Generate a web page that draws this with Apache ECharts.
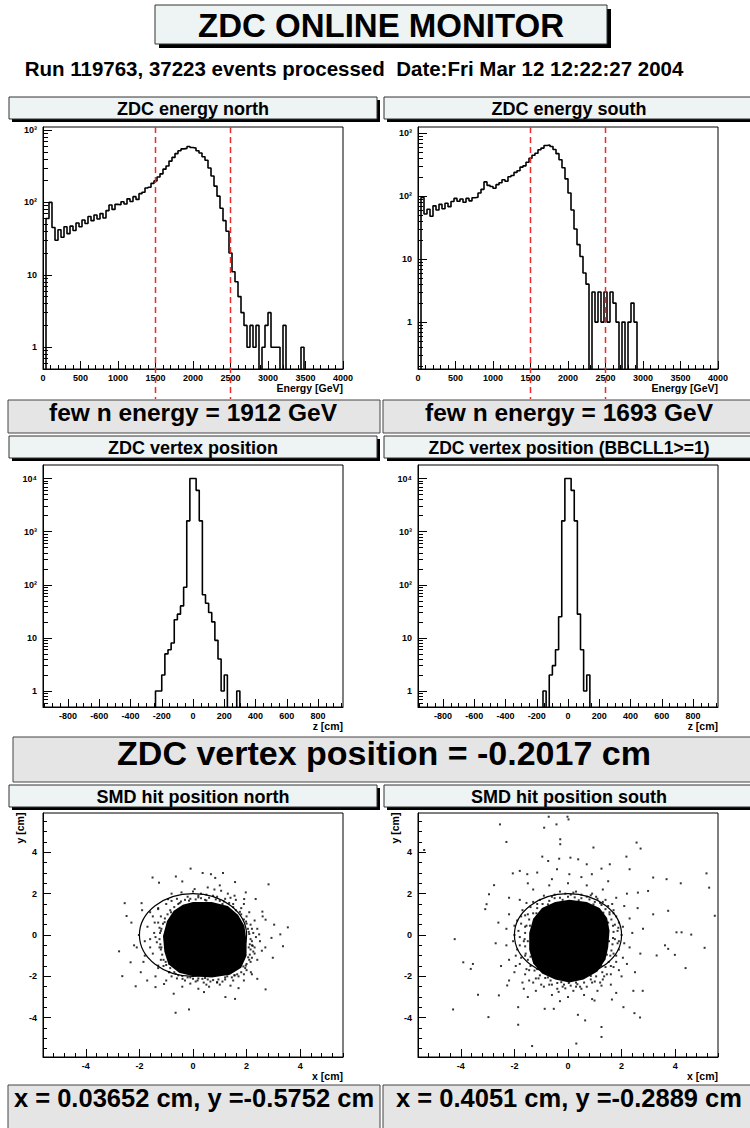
<!DOCTYPE html>
<html><head><meta charset="utf-8">
<script src="https://cdn.jsdelivr.net/npm/echarts@6.0.0/dist/echarts.min.js"></script>
<style>html,body{margin:0;padding:0;background:#fff}#c{width:750px;height:1128px}</style>
</head><body><div id="c"></div>
<script>
const FONT = '"Liberation Sans", Arial, Helvetica, sans-serif';

// ---------------- data ----------------
const energyBinWidth = 40;      // GeV per bin, bins start at 0
const energyNorth = [0,60,100,45,30,42,33,46,37,47, 41,52,46,57,51,64,56,67,59,70,
  61,77,92,80,94,93,102,95,112,103, 120,110,132,138,158,162,183,198,224,248,
  288,318,372,418,472,518,548,558,592,572, 562,518,482,428,382,298,232,168,122,83,
  56,40,20,11,8,5,3,2,1,2, 1,2,0,1,2,3,1,1,1,0,
  2,0,0,0,0,0,1,0,0,0, 0,0,0,0,0,0,0,0,0,0];
const energySouth = [0,95,52,62,48,70,60,74,63,77, 68,82,92,83,90,80,92,84,94,96,
  112,128,168,148,142,133,152,163,182,172, 203,212,238,252,288,302,344,398,444,478,
  545,578,634,648,612,548,472,378,282,188, 112,60,30,17,11,6,4,0,3,1,
  3,1,3,1,3,2,1,0,1,0, 1,2,1,0,0,0,0,0,0,0,
  0,0,0,0,0,0,0,0,0,0, 0,0,0,0,0,0,0,0,0,0];
const energyCuts = [1500, 2500];
const fewNEnergyNorth = 1912, fewNEnergySouth = 1693;

const vertexBinWidth = 20;      // cm
const vertexNorthStart = -240;
const vertexNorth = [1,1,2,5,6,8,22,28,40,90,1600,10000,10000,6000,1600,65,45,30,20,9,4,1,2,0,0,0,1];
const vertexSouthStart = -160;
const vertexSouth = [1,0,2,3,6,25,1600,10000,10000,6000,1600,28,6,1,2];
const vertexMean = -0.2017;

const smdRing = [[0, 0, 2]];    // cx, cy, r (cm)
const smdNorthCore = [[0.0,1.6],[0.7,1.6],[1.3,1.4],[1.68,0.98],[1.92,0.45],[2.0,-0.3],[2.0,-1.0],[1.8,-1.58],
  [1.38,-1.92],[0.7,-2.05],[0.0,-2.0],[-0.52,-1.82],[-0.92,-1.42],[-1.07,-0.8],[-1.12,-0.05],[-0.97,0.68],[-0.72,1.17],[-0.38,1.46]];
const smdNorthHits = [[-0.09,3.21],[-1.51,2.78],[-0.64,2.83],[-0.4,2.59],[-1.27,2.53],[0.36,3.0],[0.67,2.94],[1.12,3.0],
  [0.83,2.76],[1.57,2.56],[2.82,2.45],[-2.55,1.54],[-1.92,1.54],[-2.48,0.92],[-2.76,-0.79],[-2.64,-1.99],[-2.14,-2.48],
  [-1.71,-2.2],[-1.4,-2.52],[-1.08,-2.37],[-0.72,-2.84],[-0.65,-3.76],[-0.15,-3.6],[0.41,-2.76],[1.21,-3.0],[1.57,-3.09],
  [1.7,-2.57],[2.71,-2.63],[2.4,-2.12],[2.98,-1.1],[3.36,-0.54],[3.54,0.37],[3.03,0.5],[2.71,0.74],[2.59,1.13],[2.34,1.74],
  [1.97,2.06],[2.93,-0.14],[2.47,0.03],[2.23,-0.52],[2.57,-0.76],[3.26,0.03],[1.97,-1.48],[2.16,-1.8],[1.55,-1.95],
  [0.9,-2.28],[0.17,-2.2],[-0.39,-2.12],[-0.88,-1.8],[-1.3,-1.48],[-1.8,-1.0],[-1.6,-0.2],[-1.43,0.6],[-1.3,1.25],
  [-0.93,1.73],[-0.43,2.06],[0.06,2.22],[0.55,2.3],[1.05,2.14],[1.55,1.9],[1.91,1.74],[-2.2,-0.5],[-2.02,0.0],
  [-2.33,-1.32],[-1.95,-1.8],
  [-1.5,0.9],[-1.3,1.3],[-1.7,0.4],[-1.8,-0.3],[-1.5,-0.9],[-1.35,-0.35],[-1.25,0.35],[-1.45,0.1],[-1.6,-0.6],[-1.2,-1.2],
  [-1.3,-1.6],[-0.9,-1.8],[-0.6,-2.1],[-1.0,1.5],[-0.6,1.75],[-0.2,1.85],[0.2,1.9],[0.5,1.95],[0.9,1.85],[1.2,1.75],
  [1.5,1.5],[1.8,1.3],[2.0,0.9],[2.15,0.5],[2.25,0.1],[2.2,-0.5],[2.3,-0.9],[2.15,-1.3],[2.0,-1.7],[1.7,-2.0],[1.2,-2.15],
  [0.9,-2.3],[0.4,-2.3],[0.1,-2.25],[-0.3,-2.2],[-1.6,1.1],[-0.8,1.65],[1.6,1.7],[2.4,0.3],[2.5,-0.3],[2.4,-1.2],
  [1.9,-2.2],[1.4,-2.45],[0.6,-2.5],[-0.4,-2.5],[-1.0,-2.2],[-1.85,-1.3],[-2.1,-0.6],[-2.3,0.6],[-1.9,1.2],[0.0,2.1],
  [0.8,2.2],[1.3,2.0],[2.6,0.9],[2.7,-0.6],[2.2,-1.9],[0.2,-2.6],[-1.4,-2.0],[-0.8,2.0],[1.0,2.4],[-1.2,0.9],[-1.4,-0.1],
  [-1.3,0.6],[-1.25,-0.6],[-1.1,-1.5],[0.3,2.0],[1.4,1.8],[1.9,1.5],[2.1,1.1],[2.3,0.7],[2.35,-0.1],[2.3,-0.6],[2.2,-1.1],
  [1.9,-1.9],[1.5,-2.2],[1.0,-2.4],[0.5,-2.4],[-0.1,-2.35],[-0.8,-2.0],
  [-0.3,1.7],[-0.1,1.75],[0.1,1.72],[0.3,1.78],[0.45,1.7],[0.6,1.8],[0.85,1.72],[1.0,1.65],[1.15,1.62],[-0.45,1.62],
  [0.2,1.82],[0.75,1.9],[1.35,1.55],[1.5,1.35],[1.6,1.2],[1.8,1.0],[1.9,0.75],[2.0,0.55],[2.05,0.3],[2.1,0.05],
  [2.15,-0.2],[2.12,-0.45],[2.15,-0.7],[2.12,-0.95],[2.1,-1.2],[2.0,-1.4],[1.95,-1.6],[1.8,-1.8],[1.65,-1.9],[2.2,-0.3],
  [2.25,-0.8],[2.2,0.3],[1.45,-2.05],[1.2,-2.05],[0.95,-2.15],[0.75,-2.18],[0.55,-2.15],[0.35,-2.12],[0.2,-2.1],
  [0.0,-2.12],[-0.2,-2.05],[-0.4,-1.98],[-0.55,-1.95],[-0.7,-1.8],[0.65,-2.25],[1.1,-2.25],[-0.85,-1.6],[-1.0,-1.45],
  [-1.1,-1.2],[-1.15,-0.95],[-1.2,-0.7],[-1.22,-0.45],[-1.25,-0.2],[-1.23,0.1],[-1.18,0.3],[-1.12,0.55],[-1.05,0.8],
  [-0.95,1.0],[-0.85,1.2],[-0.7,1.35],[-0.55,1.5],[1.75,1.12],[1.98,0.65],[2.08,0.15],[2.08,-0.6],[2.06,-1.08],
  [1.88,-1.52],[1.55,-1.95],[1.28,-2.0],[0.45,-2.08],[-0.1,-2.05],[-0.65,-1.88],[-1.02,-1.3],[-1.18,-0.6],[-1.2,0.2],
  [-1.06,0.62],[-0.82,1.1],[-0.5,1.55],[-0.15,1.66],[0.5,1.67],[1.1,1.5]];
const smdNorthMean = [0.03652, -0.5752];

const smdSouthCore = [[0.05,1.7],[0.7,1.6],[1.18,1.3],[1.46,0.82],[1.55,0.2],[1.5,-0.6],[1.4,-1.18],[1.1,-1.76],
  [0.58,-2.15],[0.05,-2.3],[-0.48,-2.15],[-0.97,-1.86],[-1.3,-1.38],[-1.45,-0.7],[-1.45,0.1],[-1.3,0.78],[-0.97,1.3],[-0.48,1.6]];
const smdSouthHits = [[-0.72,5.72],[-0.02,5.72],[0.02,5.59],[-0.43,5.35],[-0.89,5.19],[-2.54,5.35],[-2.3,4.5],[-0.29,4.63],
  [-0.29,4.39],[0.95,4.23],[2.56,4.47],[2.71,4.18],[-5.37,4.11],[-0.96,3.79],[-0.74,3.58],[-0.33,3.69],[0.09,3.74],
  [0.38,3.66],[2.18,3.79],[0.7,3.42],[1.25,3.21],[1.56,3.42],[-2.06,2.98],[-1.8,3.1],[-1.52,2.94],[-1.15,3.02],[-0.41,3.18],
  [0.05,2.94],[0.89,2.94],[2.3,3.18],[3.18,2.78],[3.68,2.7],[4.21,2.5],[5.17,2.98],[5.27,2.29],[5.48,0.93],[-2.76,2.41],
  [-3.04,1.49],[-3.09,1.25],[-2.95,1.97],[2.99,2.13],[2.61,2.05],[3.18,1.0],[3.74,1.17],[4.05,0.13],[4.24,0.13],[4.6,0.02],
  [3.62,-0.5],[3.74,-0.67],[3.31,-0.99],[5.1,-0.62],[3.99,-0.96],[4.39,-1.6],[-4.23,-0.2],[-3.91,-1.32],[-3.55,-1.4],
  [-3.63,-1.64],[-3.36,-2.89],[-4.29,-3.6],[-2.97,-3.97],[-1.86,-3.49],[-1.86,-4.34],[-1.34,-5.37],[0.31,-5.25],
  [1.25,-4.45],[1.25,-4.93],[0.64,-4.13],[0.37,-3.86],[2.48,-3.78],[2.69,-3.99],[2.07,-3.49],[2.44,-2.7],[2.79,-2.7],
  [-2.58,-2.92],[-2.27,-2.44],[-1.65,-2.6],[-0.87,-3.57],[-0.53,-3.57],[0.99,-3.17],[1.64,-3.12],[0.03,-2.32],
  [-1.7,1.2],[-1.9,0.7],[-2.0,0.0],[-1.9,-0.7],[-1.8,-1.4],[-1.6,-1.9],[-1.3,-2.3],[-0.9,-2.5],[-0.4,-2.6],[0.2,-2.7],
  [0.7,-2.5],[1.2,-2.3],[1.6,-1.9],[1.8,-1.3],[1.9,-0.7],[2.0,0.0],[1.9,0.6],[1.7,1.2],[1.4,1.7],[0.9,2.0],[0.3,2.1],
  [-0.3,2.1],[-0.9,1.9],[-1.3,1.6],[-1.6,0.4],[-1.65,-0.3],[-1.6,-1.0],[-1.45,-1.7],[-1.1,-2.1],[-0.6,-2.4],[0.3,-2.5],
  [0.9,-2.3],[1.35,-2.0],[1.6,-1.5],[1.7,-0.9],[1.75,-0.2],[1.75,0.5],[1.55,1.1],[1.2,1.55],[0.7,1.85],[0.1,1.95],
  [-0.6,1.85],[-1.15,1.5],[-1.5,1.0],[-2.2,1.0],[-2.3,0.3],[-2.3,-0.5],[-2.2,-1.2],[-2.0,-1.8],[-1.7,-2.3],[-1.2,-2.7],
  [-0.6,-2.9],[0.0,-3.0],[0.6,-2.9],[1.1,-2.7],[1.6,-2.4],[2.0,-2.0],[2.2,-1.4],[2.3,-0.6],[2.4,0.1],[2.3,0.8],[2.1,1.4],
  [1.8,1.8],[1.3,2.2],[0.7,2.4],[0.0,2.5],[-0.7,2.4],[-1.3,2.2],[-1.8,1.7],[-2.6,0.6],[-2.7,-0.4],[-2.5,-1.5],[-2.2,-2.2],
  [-1.5,-3.0],[-0.3,-3.2],[0.9,-3.1],[1.8,-2.8],[2.5,-1.8],[2.7,-0.9],[2.8,0.3],[2.6,1.3],[2.2,2.0],[1.5,2.6],[0.5,2.8],
  [-0.6,2.7],[-1.5,2.5],[-2.2,1.8],[-1.85,0.2],[-1.8,-0.1],[-1.75,0.9],[-1.95,-1.0],[1.85,0.2],[1.85,-0.4],[1.65,1.5],
  [1.05,1.85],[-0.2,-2.5],[0.5,-2.6],[-1.0,-2.4],[1.3,-2.15],
  [-0.3,1.8],[0.0,1.85],[0.25,1.82],[0.5,1.78],[0.8,1.72],[1.0,1.6],[1.25,1.45],[1.4,1.25],[1.55,1.0],[1.62,0.75],
  [1.68,0.45],[1.7,0.15],[1.68,-0.15],[1.66,-0.45],[1.62,-0.75],[1.58,-1.0],[1.52,-1.3],[1.4,-1.55],[1.28,-1.8],
  [1.05,-2.0],[0.85,-2.15],[0.6,-2.3],[0.35,-2.38],[0.1,-2.45],[-0.15,-2.4],[-0.4,-2.32],[-0.65,-2.2],[-0.85,-2.08],
  [-1.05,-1.95],[-1.25,-1.72],[-1.4,-1.5],[-1.5,-1.2],[-1.58,-0.9],[-1.6,-0.55],[-1.62,-0.2],[-1.6,0.1],[-1.55,0.45],
  [-1.45,0.75],[-1.3,1.05],[-1.15,1.3],[-0.95,1.5],[-0.7,1.65],[-0.5,1.78],[-0.1,2.0],[0.5,1.95],[1.1,1.75],[1.5,1.4],
  [1.8,0.9],[1.88,0.35],[1.9,-0.3],[1.8,-1.0],[1.7,-1.55],[1.45,-1.9],[1.0,-2.25],[0.45,-2.5],[-0.1,-2.58],[-0.7,-2.4],
  [-1.2,-2.1],[-1.55,-1.65],[-1.75,-1.1],[-1.8,-0.5],[-1.75,0.55],[-1.6,0.95],[-1.4,1.35],[-1.05,1.7],[-0.5,1.95],
  [0.2,2.05],[0.85,1.92],[1.3,1.6],[1.7,1.05],[2.05,0.4],[2.1,-0.4],[2.05,-1.1],[1.9,-1.7],[1.25,-2.45],[-0.35,-2.75],
  [-1.45,-2.2],[-1.95,-1.5],[-2.05,-0.3],[-2.0,0.45],[-1.55,1.55],[1.5,0.6],[1.53,-0.3],[1.45,-0.95],[1.25,-1.5],
  [0.85,-1.98],[0.3,-2.3],[-0.25,-2.28],[-0.75,-2.05],[-1.15,-1.65],[-1.4,-1.05],[-1.5,-0.3],[-1.42,0.45],[-1.18,1.05],
  [-0.75,1.48],[-0.2,1.7],[0.4,1.68],[0.95,1.48],[1.32,1.08]];
const smdSouthMean = [0.4051, -0.2889];

// ticks
const energyMajorTicks = [0,500,1000,1500,2000,2500,3000,3500,4000];
const energyMinorTicks = [100,200,300,400,600,700,800,900,1100,1200,1300,1400,1600,1700,1800,1900,2100,2200,2300,2400,
  2600,2700,2800,2900,3100,3200,3300,3400,3600,3700,3800,3900];
const vertexMajorTicks = [-800,-600,-400,-200,0,200,400,600,800];
const vertexMinorTicks = [-950,-900,-850,-750,-700,-650,-550,-500,-450,-350,-300,-250,-150,-100,-50,50,100,150,
  250,300,350,450,500,550,650,700,750,850,900,950];
const smdMajorTicks = [-4,-2,0,2,4];
const smdXMinorTicks = [-5.6,-5.2,-4.8,-4.4,-3.6,-3.2,-2.8,-2.4,-1.6,-1.2,-0.8,-0.4,0.4,0.8,1.2,1.6,2.4,2.8,3.2,3.6,4.4,4.8,5.2,5.6];
const smdYMinorTicks = [-5.5,-5,-4.5,-3.5,-3,-2.5,-1.5,-1,-0.5,0.5,1,1.5,2.5,3,3.5,4.5,5,5.5];
const logMajorTicks = [1,10,100,1000,10000];
const logMajorLabels = {1:'1', 10:'10', 100:'10²', 1000:'10³', 10000:'10⁴'};
const logMinorTicks = [0.2,0.3,0.4,0.5,0.6,0.7,0.8,0.9,2,3,4,5,6,7,8,9,20,30,40,50,60,70,80,90,
  200,300,400,500,600,700,800,900,2000,3000,4000,5000,6000,7000,8000,9000];

// ---------------- helpers ----------------
const EMPTY = 1e-3; // empty bins drawn below the log-axis floor (clipped)
function histPoints(values, start, width, axisMin, axisMax) {
  const pts = [[axisMin, EMPTY]];
  values.forEach((v, i) => pts.push([start + i * width, v > 0 ? v : EMPTY]));
  pts.push([start + values.length * width, EMPTY]);
  pts.push([axisMax, EMPTY]);
  return pts;
}
const tickLabel = {color:'#000', fontFamily:FONT, fontWeight:'bold', fontSize:9};
function xPair(gi, min, max, major, minor, name) {
  return [
    {type:'value', gridIndex:gi, min, max, position:'bottom',
     axisLine:{show:true, onZero:false, lineStyle:{color:'#000', width:1}},
     axisTick:{show:true, inside:true, length:8, customValues:major, lineStyle:{color:'#000'}},
     axisLabel:Object.assign({customValues:major, margin:4, formatter:v => String(v)}, tickLabel),
     splitLine:{show:false},
     name, nameLocation:'end', nameGap:0, nameMoveOverlap:false,
     nameTextStyle:{color:'#000', fontFamily:FONT, fontWeight:'bold', fontSize:10.5, align:'right', verticalAlign:'top', padding:[13,0,0,0]}},
    {type:'value', gridIndex:gi, min, max, position:'bottom',
     axisLine:{show:false, onZero:false},
     axisTick:{show:true, inside:true, length:4, customValues:minor, lineStyle:{color:'#000'}},
     axisLabel:{show:false}, splitLine:{show:false}}
  ];
}
function yPairLog(gi, min, max) {
  return [
    {type:'log', logBase:10, gridIndex:gi, min, max, position:'left',
     axisLine:{show:true, onZero:false, lineStyle:{color:'#000', width:1}},
     axisTick:{show:true, inside:true, length:9, customValues:logMajorTicks, lineStyle:{color:'#000'}},
     axisLabel:Object.assign({customValues:logMajorTicks, margin:6, formatter:v => logMajorLabels[Math.round(v)] || ''}, tickLabel),
     splitLine:{show:false}, minorTick:{show:false}},
    {type:'log', logBase:10, gridIndex:gi, min, max, position:'left',
     axisLine:{show:false, onZero:false},
     axisTick:{show:true, inside:true, length:5, customValues:logMinorTicks, lineStyle:{color:'#000'}},
     axisLabel:{show:false}, splitLine:{show:false}}
  ];
}
function yPairLin(gi, min, max, major, minor) {
  return [
    {type:'value', gridIndex:gi, min, max, position:'left',
     axisLine:{show:true, onZero:false, lineStyle:{color:'#000', width:1}},
     axisTick:{show:true, inside:true, length:8, customValues:major, lineStyle:{color:'#000'}},
     axisLabel:Object.assign({customValues:major, margin:6, formatter:v => String(v)}, tickLabel),
     splitLine:{show:false}},
    {type:'value', gridIndex:gi, min, max, position:'left',
     axisLine:{show:false, onZero:false},
     axisTick:{show:true, inside:true, length:4, customValues:minor, lineStyle:{color:'#000'}},
     axisLabel:{show:false}, splitLine:{show:false}}
  ];
}
function histSeries(gi, values, start, width, min, max) {
  return {type:'line', xAxisIndex:2*gi, yAxisIndex:2*gi, step:'end', showSymbol:false, symbol:'none',
    data:histPoints(values, start, width, min, max), lineStyle:{color:'#000', width:1.6}, clip:true,
    silent:true, animation:false, z:3};
}
function cutSeries(gi) {
  return {type:'custom', coordinateSystem:'cartesian2d', xAxisIndex:2*gi, yAxisIndex:2*gi, clip:false, silent:true,
    data:energyCuts.map(v => [v, 1]), encode:{x:0, y:1}, z:4,
    renderItem:(params, api) => {
      const x = api.coord([api.value(0), 1])[0];
      const cs = params.coordSys;
      return {type:'line', shape:{x1:x, y1:cs.y, x2:x, y2:cs.y + cs.height + 30},
        style:{stroke:'#f02828', lineWidth:1.5, lineDash:[6,4], fill:null}};
    }};
}
function coreSeries(gi, core) {
  return {type:'custom', coordinateSystem:'cartesian2d', xAxisIndex:2*gi, yAxisIndex:2*gi, silent:true,
    data:[core[0]], encode:{x:0, y:1}, z:3,
    renderItem:(params, api) => ({type:'polygon', shape:{points:core.map(p => api.coord(p))}, style:{fill:'#000'}})};
}
function ringSeries(gi) {
  return {type:'custom', coordinateSystem:'cartesian2d', xAxisIndex:2*gi, yAxisIndex:2*gi, silent:true,
    data:smdRing, encode:{x:0, y:1}, z:4,
    renderItem:(params, api) => {
      const c = api.coord([api.value(0), api.value(1)]);
      const s = api.size([api.value(2), api.value(2)]);
      return {type:'ellipse', shape:{cx:c[0], cy:c[1], rx:s[0], ry:s[1]}, style:{fill:null, stroke:'#000', lineWidth:1.2}};
    }};
}
function hitSeries(gi, hits) {
  return {type:'scatter', xAxisIndex:2*gi, yAxisIndex:2*gi, data:hits, symbol:'rect', symbolSize:2,
    itemStyle:{color:'#000'}, silent:true, animation:false, z:3};
}

// ---------------- decorations ----------------
function titleBox(x, y, w, h, text, size, off) {
  off = off || 3;
  return [
    {type:'rect', shape:{x:x+off, y:y+off, width:w, height:h}, style:{fill:'#000'}},
    {type:'rect', shape:{x, y, width:w, height:h}, style:{fill:'#eef3f3', stroke:'#333', lineWidth:1}},
    {type:'text', x:x + w/2, y:y + h/2 + 1, style:{text, font:`bold ${size}px ${FONT}`, fill:'#000', align:'center', verticalAlign:'middle'}}
  ];
}
function grayBox(x, y, w, h, text, size, tx, ty) {
  return [
    {type:'rect', shape:{x, y, width:w, height:h}, style:{fill:'#e5e5e5', stroke:'#444', lineWidth:1}},
    {type:'text', x:tx, y:ty, style:{text, font:`bold ${size}px ${FONT}`, fill:'#000', align:'center', verticalAlign:'middle'}}
  ];
}
const graphics = [].concat(
  titleBox(155, 5, 452, 39, 'ZDC ONLINE MONITOR', 33, 4),
  [{type:'text', x:354, y:68, style:{text:'Run 119763, 37223 events processed  Date:Fri Mar 12 12:22:27 2004',
     font:`bold 20.5px ${FONT}`, fill:'#000', align:'center', verticalAlign:'middle'}}],
  titleBox(9, 97, 368, 22, 'ZDC energy north', 18),
  titleBox(384, 97, 370, 22, 'ZDC energy south', 18),
  grayBox(8, 400, 372, 33, `few n energy = ${fewNEnergyNorth} GeV`, 24.5, 193, 412),
  grayBox(383, 400, 372, 33, `few n energy = ${fewNEnergySouth} GeV`, 24.5, 569, 412),
  titleBox(9, 436, 368, 22, 'ZDC vertex position', 18),
  titleBox(384, 436, 370, 22, 'ZDC vertex position (BBCLL1>=1)', 17.5),
  grayBox(13, 737, 745, 45, `ZDC vertex position = ${vertexMean} cm`, 34, 384, 753),
  titleBox(9, 785, 368, 22, 'SMD hit position north', 18),
  titleBox(384, 785, 370, 22, 'SMD hit position south', 18),
  grayBox(8, 1085, 372, 50, `x = ${smdNorthMean[0]} cm, y =${smdNorthMean[1]} cm`, 25.5, 194, 1098),
  grayBox(383, 1085, 372, 50, `x = ${smdSouthMean[0]} cm, y =${smdSouthMean[1]} cm`, 25.5, 569, 1098),
  [{type:'text', x:20, y:828, rotation:Math.PI/2, style:{text:'y [cm]', font:`bold 10.5px ${FONT}`, fill:'#000', align:'center', verticalAlign:'middle'}},
   {type:'text', x:395, y:828, rotation:Math.PI/2, style:{text:'y [cm]', font:`bold 10.5px ${FONT}`, fill:'#000', align:'center', verticalAlign:'middle'}}]
);

// ---------------- chart ----------------
const gridBase = {show:true, borderColor:'#000', borderWidth:1, backgroundColor:'#fff', containLabel:false};
const grid = [
  {left:43, top:127, width:300, height:242},
  {left:418, top:127, width:300, height:242},
  {left:43, top:465, width:300, height:242},
  {left:418, top:465, width:300, height:242},
  {left:43, top:813, width:300, height:244},
  {left:418, top:813, width:300, height:244}
].map(g => Object.assign({}, gridBase, g));

const V_MIN = -960, V_MAX = 960;
const xAxis = [].concat(
  xPair(0, 0, 4000, energyMajorTicks, energyMinorTicks, 'Energy [GeV]'),
  xPair(1, 0, 4000, energyMajorTicks, energyMinorTicks, 'Energy [GeV]'),
  xPair(2, V_MIN, V_MAX, vertexMajorTicks, vertexMinorTicks, 'z [cm]'),
  xPair(3, V_MIN, V_MAX, vertexMajorTicks, vertexMinorTicks, 'z [cm]'),
  xPair(4, -5.6, 5.6, smdMajorTicks, smdXMinorTicks, 'x [cm]'),
  xPair(5, -5.6, 5.6, smdMajorTicks, smdXMinorTicks, 'x [cm]')
);
const yAxis = [].concat(
  yPairLog(0, 0.5, 1100),
  yPairLog(1, 0.18, 1250),
  yPairLog(2, 0.5, 18000),
  yPairLog(3, 0.5, 18000),
  yPairLin(4, -5.9, 5.9, smdMajorTicks, smdYMinorTicks),
  yPairLin(5, -5.9, 5.9, smdMajorTicks, smdYMinorTicks)
);
const series = [
  histSeries(0, energyNorth, 0, energyBinWidth, 0, 4000), cutSeries(0),
  histSeries(1, energySouth, 0, energyBinWidth, 0, 4000), cutSeries(1),
  histSeries(2, vertexNorth, vertexNorthStart, vertexBinWidth, V_MIN, V_MAX),
  histSeries(3, vertexSouth, vertexSouthStart, vertexBinWidth, V_MIN, V_MAX),
  hitSeries(4, smdNorthHits), coreSeries(4, smdNorthCore), ringSeries(4),
  hitSeries(5, smdSouthHits), coreSeries(5, smdSouthCore), ringSeries(5)
];

const chart = echarts.init(document.getElementById('c'), null, {renderer:'svg', width:750, height:1128});
chart.setOption({
  animation:false,
  backgroundColor:'#fff',
  grid, xAxis, yAxis, series,
  graphic:{elements:graphics}
});
</script></body></html>
